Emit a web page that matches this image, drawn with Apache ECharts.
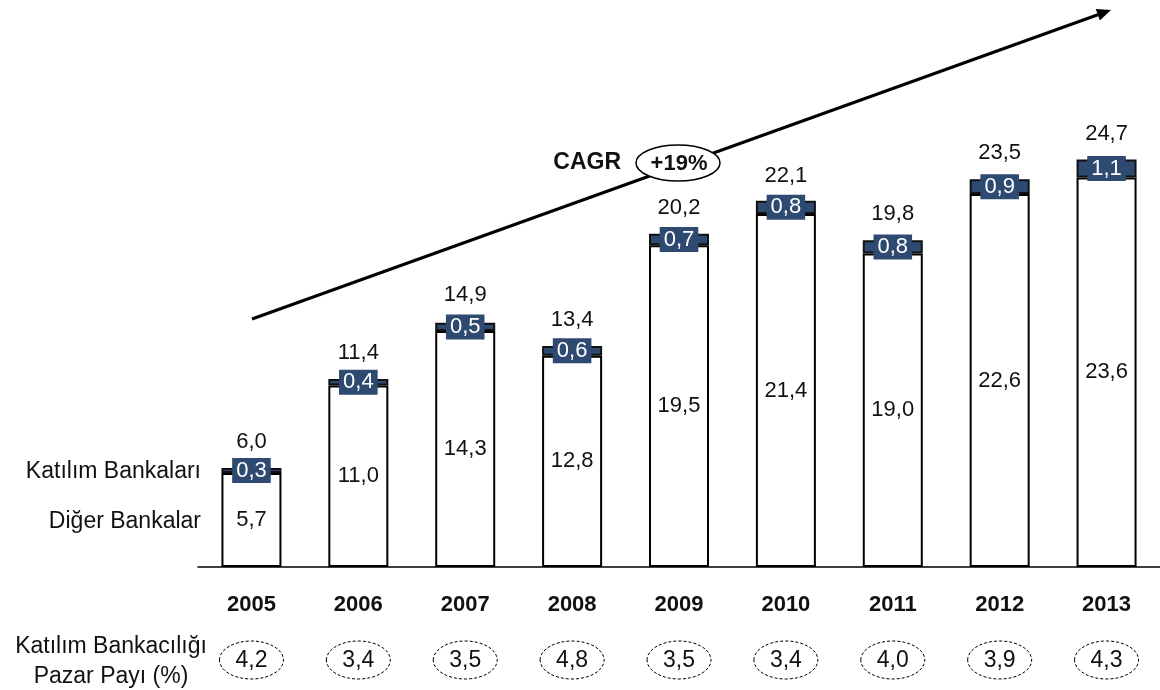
<!DOCTYPE html>
<html>
<head>
<meta charset="utf-8">
<script src="https://cdn.jsdelivr.net/npm/echarts@6/dist/echarts.min.js"></script>
<style>
  html, body { margin: 0; padding: 0; background: #fff; }
  #chart { width: 1160px; height: 690px; }
</style>
</head>
<body>
<div id="chart"></div>
<script>
// Yıllar ve seriler (milyar)
const years = ['2005', '2006', '2007', '2008', '2009', '2010', '2011', '2012', '2013'];
const digerBankalar = [5.7, 11.0, 14.3, 12.8, 19.5, 21.4, 19.0, 22.6, 23.6];
const katilimBankalari = [0.3, 0.4, 0.5, 0.6, 0.7, 0.8, 0.8, 0.9, 1.1];
const toplam = [6.0, 11.4, 14.9, 13.4, 20.2, 22.1, 19.8, 23.5, 24.7];
// Katılım bankacılığı pazar payı (%)
const pazarPayi = [4.2, 3.4, 3.5, 4.8, 3.5, 3.4, 4.0, 3.9, 4.3];
const cagrText = '+19%';

const FONT = '"Liberation Sans", Arial, sans-serif';
const NAVY = '#2f4a70';
const fmt = v => v.toFixed(1).replace('.', ',');

const chart = echarts.init(document.getElementById('chart'));

const option = {
  animation: false,
  backgroundColor: '#ffffff',
  textStyle: { fontFamily: FONT },
  grid: { left: 198, top: 72, width: 966, bottom: 123 },
  xAxis: {
    type: 'category',
    data: years,
    axisLine: { show: true, lineStyle: { color: '#000', width: 1.5 } },
    axisTick: { show: false },
    axisLabel: { color: '#111', fontSize: 22, fontWeight: 'bold', fontFamily: FONT, margin: 27 }
  },
  yAxis: {
    type: 'value', min: 0, max: 30,
    show: false, splitLine: { show: false }
  },
  series: [
    {
      name: 'Diğer Bankalar',
      type: 'bar',
      stack: 'toplam',
      barWidth: 60,
      data: digerBankalar,
      itemStyle: { color: '#ffffff', borderColor: '#000', borderWidth: 2 },
      label: {
        show: true, position: 'inside', color: '#111', fontSize: 22, fontFamily: FONT,
        formatter: p => fmt(p.value)
      }
    },
    {
      name: 'Katılım Bankaları',
      type: 'bar',
      stack: 'toplam',
      barWidth: 60,
      data: katilimBankalari,
      itemStyle: { color: NAVY, borderColor: '#111', borderWidth: 2 },
      label: {
        show: true, position: 'inside', color: '#fff', fontSize: 22, fontFamily: FONT,
        backgroundColor: NAVY, padding: [2, 4, 1, 4],
        formatter: p => fmt(p.value)
      }
    },
    {
      name: 'Toplam',
      type: 'scatter',
      data: toplam,
      symbolSize: 0,
      itemStyle: { color: '#000', opacity: 1 },
      label: {
        show: true, position: 'top', distance: 15, color: '#111', fontSize: 22, fontFamily: FONT,
        formatter: p => fmt(p.value)
      },
      z: 5
    }
  ]
};
chart.setOption(option);

// Alt satır, yıllık pazar payı elipsleri ve CAGR oku
function drawExtras() {
  const els = [];
  const baseY = chart.convertToPixel({ yAxisIndex: 0 }, 0);

  // Sol açıklama metinleri
  els.push({
    type: 'text', style: { text: 'Katılım Bankaları', x: 201, y: 472, align: 'right', verticalAlign: 'middle',
      font: '23px ' + FONT, fill: '#111' }
  });
  els.push({
    type: 'text', style: { text: 'Diğer Bankalar', x: 201, y: 522, align: 'right', verticalAlign: 'middle',
      font: '23px ' + FONT, fill: '#111' }
  });
  els.push({
    type: 'text', style: { text: 'Katılım Bankacılığı\nPazar Payı (%)', x: 111, y: 662, align: 'center', verticalAlign: 'middle',
      font: '23px ' + FONT, fill: '#111', lineHeight: 30 }
  });

  pazarPayi.forEach((v, i) => {
    const cx = chart.convertToPixel({ xAxisIndex: 0 }, years[i]);
    const cy = baseY + 93;
    els.push({
      type: 'ellipse',
      shape: { cx: cx, cy: cy, rx: 32, ry: 19 },
      style: { fill: '#fff', stroke: '#000', lineWidth: 1, lineDash: [3, 2] }
    });
    els.push({
      type: 'text',
      style: { text: fmt(v), x: cx, y: cy + 1, align: 'center', verticalAlign: 'middle',
        font: '23px ' + FONT, fill: '#111' }
    });
  });

  // CAGR oku
  const x1 = 252, y1 = 319, x2 = 1111, y2 = 10;
  const ang = Math.atan2(y2 - y1, x2 - x1);
  const hl = 14, hw = 6;
  const bx = x2 - hl * Math.cos(ang), by = y2 - hl * Math.sin(ang);
  els.push({
    type: 'line', shape: { x1: x1, y1: y1, x2: bx, y2: by },
    style: { stroke: '#000', lineWidth: 3 }
  });
  els.push({
    type: 'polygon',
    shape: { points: [
      [x2, y2],
      [bx + hw * Math.sin(ang), by - hw * Math.cos(ang)],
      [bx - hw * Math.sin(ang), by + hw * Math.cos(ang)]
    ] },
    style: { fill: '#000' }
  });
  els.push({
    type: 'text', style: { text: 'CAGR', x: 621, y: 163, align: 'right', verticalAlign: 'middle',
      font: 'bold 23px ' + FONT, fill: '#111' }
  });
  els.push({
    type: 'ellipse', shape: { cx: 678, cy: 163, rx: 42, ry: 18 },
    style: { fill: '#fff', stroke: '#000', lineWidth: 1.5 }, z: 10
  });
  els.push({
    type: 'text', style: { text: cagrText, x: 679, y: 164, align: 'center', verticalAlign: 'middle',
      font: 'bold 22px ' + FONT, fill: '#111' }, z: 11
  });

  chart.setOption({ graphic: { elements: els } });
}
drawExtras();
</script>
</body>
</html>
